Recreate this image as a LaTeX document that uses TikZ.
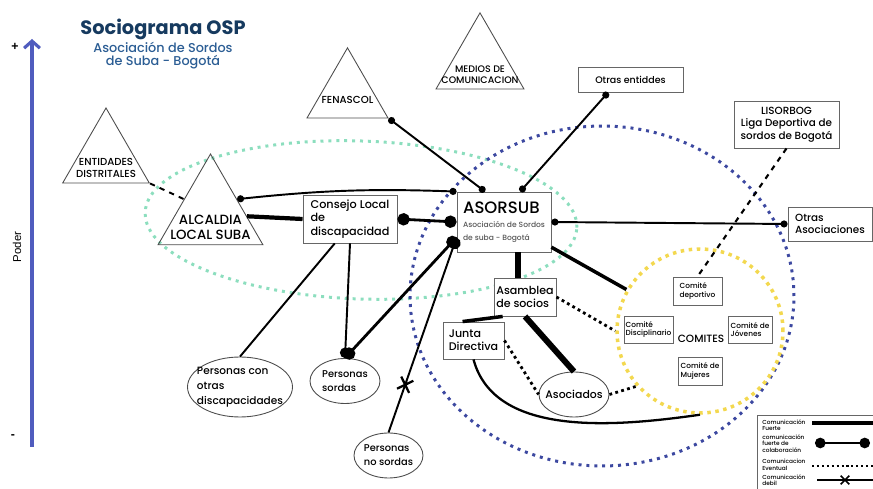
\documentclass[tikz,border=0pt]{standalone}
\usepackage{fontspec}
\setmainfont{Poppins}[UprightFont=* Medium, BoldFont=* Bold]
\newfontfamily\axisfont{Liberation Sans}
\usepackage{tikz}
\usetikzlibrary{arrows.meta, positioning, shapes, calc, backgrounds}

\definecolor{titleblue}{RGB}{22,58,95}
\definecolor{subblue}{RGB}{43,93,148}
\definecolor{axisblue}{RGB}{80,92,190}
\definecolor{localgreen}{RGB}{140,222,190}
\definecolor{orgblue}{RGB}{60,72,160}
\definecolor{comiteyellow}{RGB}{243,216,79}

\newcommand{\fsz}[2]{\fontsize{#1}{#2}\selectfont}

\begin{document}
\begin{tikzpicture}[
    x=0.02cm, y=-0.02cm,
    font=\fsz{6}{7.2},
    % Styles
    actor/.style={
        draw=black!70, line width=0.5pt,
        regular polygon, regular polygon sides=3, inner sep=0pt
    },
    actortext/.style={align=center, inner sep=0pt, font=\fsz{5.8}{7.2}},
    box/.style={
        draw=black!60, fill=white, line width=0.5pt, align=left, inner sep=0pt
    },
    comite/.style={box, font=\fsz{4.2}{5}},
    group/.style={draw=black!70, line width=0.5pt, ellipse, inner sep=0pt},
    grouptext/.style={align=left, inner sep=0pt, font=\fsz{6}{8.6}},
    zone/.style={ellipse, inner sep=0pt, line width=1.7pt, dash pattern=on 1.7pt off 2.8pt},
    tie/.style={line width=1.1pt},
    tiedot/.style={tie, {Circle[length=4pt]}-{Circle[length=4pt]}},
    strong/.style={line width=2.4pt},
    collab/.style={line width=1.6pt, {Circle[length=7pt]}-{Circle[length=7pt]}},
    eventual/.style={line width=1.6pt, dash pattern=on 1.6pt off 1.9pt},
    xmark/.style={cross out, draw, line width=1.3pt, minimum size=6pt, inner sep=0pt, sloped},
    note/.style={align=left, inner sep=0pt, font=\fsz{3.3}{3.7}}
]
    \useasboundingbox (0,0) rectangle (873,489);

    % --- Title ---
    \node[font=\bfseries\fsz{11}{12}, text=titleblue, inner sep=0pt] (title) at (163,29) {Sociograma OSP};
    \node[below=1pt of title, font=\fsz{7.3}{7.8}, text=subblue, align=center, inner sep=0pt] (subtitle) {Asociación de Sordos\\de Suba - Bogotá};

    % --- Power axis ---
    \coordinate (pmin) at (32,447);
    \coordinate (pmax) at (32,39);
    \draw[axisblue, line width=1.8pt, -{Straight Barb[length=4pt, width=9pt]}] (pmin) -- (pmax);
    \node[font=\axisfont\bfseries\fsz{7}{8}] (plus) at (15,47) {+};
    \node[font=\axisfont\bfseries\fsz{7}{8}] (minus) at (13,437) {-};
    \node[font=\axisfont\fsz{6.5}{8}, rotate=90] (poder) at (17,247) {Poder};

    % --- Zones ---
    \begin{scope}[on background layer]
        \node[zone, draw=localgreen, minimum width=8.64cm, minimum height=3.16cm, rotate=-2] (local) at (361,220) {};
        \node[zone, draw=orgblue, minimum width=7.68cm, minimum height=6.8cm] (org) at (602,296) {};
        \node[zone, draw=comiteyellow, line width=2pt, dash pattern=on 2pt off 2.6pt, minimum width=3.32cm, minimum height=3.28cm] (comites) at (700,331) {};
    \end{scope}

    % --- Actors (triangles) ---
    \node[actor, minimum size=2.0cm] (entidades) at (106,158) {};
    \node[actortext, above=3pt of entidades.south] (entidadestxt) {ENTIDADES\\DISTRITALES};

    \node[actor, minimum size=2.42cm] (alcaldia) at (210.5,214.5) {};
    \node[actortext, font=\fsz{7.6}{8.6}, above=3pt of alcaldia.south] (alcaldiatxt) {ALCALDIA\\LOCAL SUBA};

    \node[actor, minimum size=1.87cm] (fenascol) at (347.5,94.6) {};
    \node[actortext, above=8pt of fenascol.south] (fenascoltxt) {FENASCOL};

    \node[actor, minimum size=2.03cm] (medios) at (480,63.6) {};
    \node[actortext, font=\fsz{5.4}{6.6}, above=3pt of medios.south] (mediostxt) {MEDIOS DE\\COMUNICACION};

    % --- Organisations ---
    \node[box, minimum width=1.88cm, minimum height=0.96cm, font=\fsz{6.4}{7.6}] (consejo) at (350,219) {Consejo Local\\de\\discapacidad};
    \node[box, minimum width=1.88cm, minimum height=1.2cm] (asorsub) at (504,222) {%
        {\fsz{9.4}{11}ASORSUB}\\[1pt]
        {\fsz{4.3}{6.2}\color{black!65}Asociación de Sordos}\\
        {\fsz{4.3}{6.2}\color{black!65}de suba - Bogotá}};
    \node[box, minimum width=2.1cm, minimum height=0.5cm, font=\fsz{5.4}{6.4}] (entiddes) at (630.5,79.5) {Otras entiddes};
    \node[box, minimum width=2.1cm, minimum height=0.94cm, align=center, font=\fsz{5.9}{7.2}] (lisorbog) at (786.5,124.5) {LISORBOG\\Liga Deportiva de\\sordos de Bogotá};
    \node[box, minimum width=1.68cm, minimum height=0.68cm, font=\fsz{5.9}{7.2}] (otrasasoc) at (830,224) {Otras\\Asociaciones};
    \node[box, minimum width=1.24cm, minimum height=0.76cm, font=\fsz{6.3}{7.2}] (asamblea) at (525,297) {Asamblea\\de socios};
    \node[box, minimum width=1.22cm, minimum height=0.74cm, font=\fsz{6.3}{7.2}] (junta) at (473.5,340.5) {Junta\\Directiva};

    % --- Comites ---
    \node[comite, minimum width=0.98cm, minimum height=0.56cm] (deportivo) at (697.5,291) {Comité\\deportivo};
    \node[comite, minimum width=0.98cm, minimum height=0.54cm] (disciplinario) at (648.5,329.5) {Comité\\Disciplinario};
    \node[comite, minimum width=0.88cm, minimum height=0.54cm] (jovenes) at (750,329.5) {Comité de\\Jóvenes};
    \node[comite, minimum width=0.88cm, minimum height=0.56cm] (mujeres) at (700,371) {Comité de\\Mujeres};
    \node[inner sep=0pt, font=\fsz{6}{7}] (comitestxt) at (701,339) {COMITES};

    % --- Groups of people ---
    \node[group, minimum width=2.1cm, minimum height=1.2cm] (otras) at (240,387) {};
    \node[grouptext] (otrastxt) at (otras) {Personas con\\otras\\discapacidades};
    \node[group, minimum width=1.4cm, minimum height=0.9cm] (sordas) at (345,381) {};
    \node[grouptext, font=\fsz{5.6}{8}] (sordastxt) at (sordas) {Personas\\sordas};
    \node[group, minimum width=1.38cm, minimum height=0.9cm] (nosordas) at (388.5,455.5) {};
    \node[grouptext, font=\fsz{5.6}{8}] (nosordastxt) at (nosordas) {Personas\\no sordas};
    \node[group, minimum width=1.4cm, minimum height=0.9cm] (asociados) at (574,394.5) {};
    \node[grouptext, font=\fsz{6.2}{7}] (asociadostxt) at (asociados) {Asociados};

    % --- Connections ---
    % Local level
    \draw[tie, dashed] (entidades.corner 3) -- (alcaldia.side 1);
    \draw[tiedot] (alcaldia.side 3) to[bend left=4] (asorsub.north west);
    \draw[strong] (alcaldia) -- (consejo.west);
    \draw[collab] (consejo.east) -- (asorsub.west);

    % Other entities
    \draw[tiedot] (fenascol.corner 3) -- (asorsub.122);
    \draw[tiedot] (entiddes.210) -- (asorsub.62);
    \draw[tiedot] (asorsub.east) -- (otrasasoc.west);
    \draw[tie, dashed, line width=1.2pt] (lisorbog.south) -- (deportivo.north);

    % People
    \draw[tie] (consejo.238) -- (otras.north);
    \draw[tie, -{Circle[length=6pt]}] (consejo.south) -- (sordas.north);
    \draw[collab] (asorsub.198) -- (sordas.north);
    \draw[tie, {Circle[length=7pt]}-] (asorsub.198) -- node[xmark, pos=0.755] (cut) {} (nosordas.north);

    % Internal structure
    \draw[line width=3pt] (asorsub.south -| asamblea.110) -- (asamblea.110);
    \draw[line width=2pt] (asorsub.-28) -- (comites);
    \draw[line width=2pt] (asamblea.221) -- (junta.120);
    \draw[line width=3.4pt] (asamblea.south) -- (asociados.north);
    \draw[eventual] (asamblea.east) -- (comites.west);
    \draw[eventual] (junta.east) -- (asociados.west);
    \draw[eventual] (asociados.east) -- (comites.221);
    \draw[tie, line width=1.3pt] (junta.south) to[out=-75, in=188, looseness=0.9] (comites.south);

    % --- Legend ---
    \node[draw=black!60, line width=0.5pt, anchor=north west, minimum width=2.6cm, minimum height=1.7cm] (legend) at (757,415) {};
    \node[note, anchor=north west] (lfuerte) at (762,419) {Comunicación\\Fuerte};
    \node[note, anchor=north west] (lcolab) at (762,434) {comunicación\\fuerte de\\colaboración};
    \node[note, anchor=north west] (leventual) at (762,459) {Comunicacion\\Eventual};
    \node[note, anchor=north west] (ldebil) at (762,474) {Comunicación\\debil};
    \coordinate (lf1) at (812,423); \coordinate (lf2) at (873,423);
    \coordinate (lc1) at (815,443); \coordinate (lc2) at (870,443);
    \coordinate (le1) at (812,466); \coordinate (le2) at (873,466);
    \coordinate (ld1) at (817,480); \coordinate (ld2) at (873,480);
    \draw[line width=1.8pt] (lf1) -- (lf2);
    \draw[line width=1.1pt, {Circle[length=6pt]}-{Circle[length=6pt]}] (lc1) -- (lc2);
    \draw[eventual, line width=1.2pt, dash pattern=on 1.2pt off 1.6pt] (le1) -- (le2);
    \draw[line width=1.1pt] (ld1) -- node[xmark, pos=0.5, minimum size=4pt, line width=0.9pt] (ldx) {} (ld2);

\end{tikzpicture}
\end{document}
